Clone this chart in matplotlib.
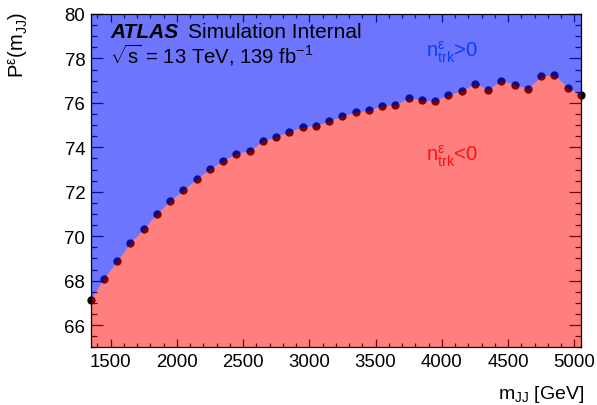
import matplotlib
matplotlib.use("Agg")
import matplotlib.pyplot as plt
from matplotlib.ticker import MultipleLocator

plt.rcParams['font.family'] = ['Liberation Sans', 'DejaVu Sans']
plt.rcParams['mathtext.fontset'] = 'custom'
plt.rcParams['mathtext.rm'] = 'Liberation Sans'
plt.rcParams['mathtext.it'] = 'Liberation Sans:italic'
plt.rcParams['mathtext.bf'] = 'Liberation Sans:bold'

# dijet mass bin centres [GeV] and fraction with positive n_trk^eps [%]
mjj = [1350, 1450, 1550, 1650, 1750, 1850, 1950, 2050, 2150, 2250,
       2350, 2450, 2550, 2650, 2750, 2850, 2950, 3050, 3150, 3250,
       3350, 3450, 3550, 3650, 3750, 3850, 3950, 4050, 4150, 4250,
       4350, 4450, 4550, 4650, 4750, 4850, 4950, 5050]
frac = [67.15, 68.09, 68.88, 69.69, 70.32, 71.00, 71.58, 72.07, 72.57, 73.02,
        73.38, 73.72, 73.83, 74.28, 74.47, 74.70, 74.91, 74.98, 75.18, 75.40,
        75.58, 75.66, 75.87, 75.91, 76.21, 76.13, 76.09, 76.35, 76.55, 76.85,
        76.60, 77.00, 76.82, 76.63, 77.20, 77.26, 76.67, 76.36]

ylo, yhi = 65.0, 80.0

fig = plt.figure(figsize=(5.97, 4.06), dpi=100)
ax = fig.add_axes([0.1519, 0.1421, 0.8213, 0.821])

# points first, translucent fills on top (ROOT style)
ax.plot(mjj, frac, 'o', color='black', markersize=6.0, markeredgewidth=0,
        clip_on=False, zorder=1)
ax.fill_between(mjj, frac, yhi, color=(0.04, 0.1, 0.98), alpha=0.6,
                linewidth=0, zorder=2)
ax.fill_between(mjj, ylo, frac, color=(1.0, 0.0, 0.0), alpha=0.5,
                linewidth=0, zorder=2)

ax.set_xlim(mjj[0], mjj[-1])
ax.set_ylim(ylo, yhi)
ax.xaxis.set_major_locator(MultipleLocator(500))
ax.xaxis.set_minor_locator(MultipleLocator(100))
ax.yaxis.set_major_locator(MultipleLocator(2))
ax.yaxis.set_minor_locator(MultipleLocator(0.5))
ax.tick_params(axis='both', which='both', direction='in', top=True,
               right=True, labelsize=13.4, pad=4, width=0.9)
ax.tick_params(axis='x', which='major', length=5.8)
ax.tick_params(axis='x', which='minor', length=2.9)
ax.tick_params(axis='y', which='major', length=8.6)
ax.tick_params(axis='y', which='minor', length=4.3)
for s in ax.spines.values():
    s.set_linewidth(0.9)

fig.text(18 / 597, 1 - 12 / 406, r'P$^{\mathregular{ε}}$(m$_{\mathregular{JJ}}$)',
         rotation=90, ha='center', va='top', fontsize=14.5)
fig.text(584 / 597, 1 - 399 / 406, r'm$_{\mathregular{JJ}}$ [GeV]',
         ha='right', va='baseline', fontsize=14)

ax.text(110 / 597, 1 - 38 / 406, 'ATLAS', transform=fig.transFigure,
        fontsize=15, fontweight='bold', fontstyle='italic')
ax.text(188 / 597, 1 - 38 / 406, 'Simulation Internal',
        transform=fig.transFigure, fontsize=15)
ax.text(110 / 597, 1 - 64 / 406, r'$\sqrt{\mathregular{s}}$ = 13 TeV, 139 fb$^{\mathregular{-1}}$',
        transform=fig.transFigure, fontsize=14.6)

ax.text(426 / 597, 1 - 57 / 406, r'n$^{\mathregular{ε}}_{\mathregular{trk}}$>0',
        transform=fig.transFigure, fontsize=14.6, color='#0a3cff', zorder=3)
ax.text(426 / 597, 1 - 161 / 406, r'n$^{\mathregular{ε}}_{\mathregular{trk}}$<0',
        transform=fig.transFigure, fontsize=14.6, color='#ff1010', zorder=3)

fig.savefig('out.png', dpi=100)
